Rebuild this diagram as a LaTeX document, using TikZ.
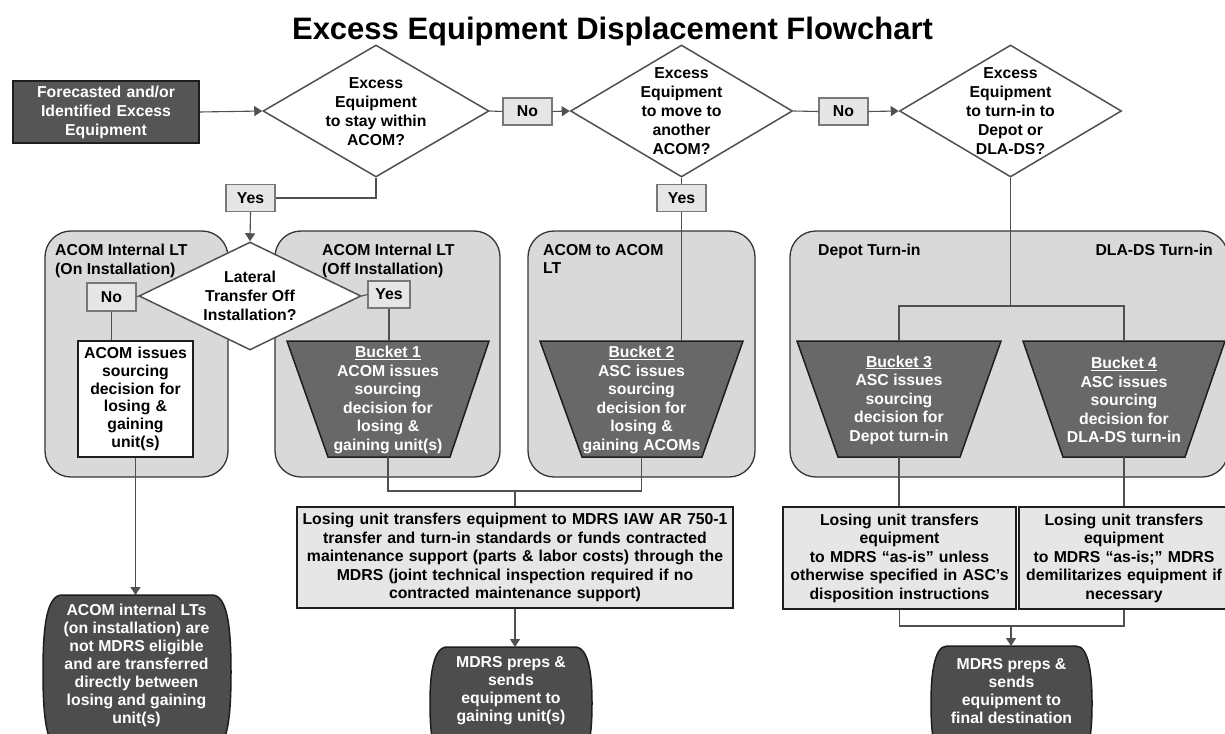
\documentclass[tikz,border=0pt]{standalone}
\usepackage{fontspec}
\setmainfont{Liberation Sans}
\usetikzlibrary{arrows.meta,shapes.geometric}

\definecolor{startfill}{RGB}{85,85,85}
\definecolor{bucketfill}{RGB}{104,104,104}
\definecolor{endfill}{RGB}{77,77,77}
\definecolor{contfill}{RGB}{217,217,217}
\definecolor{boxfill}{RGB}{230,230,230}
\definecolor{linegray}{RGB}{80,80,80}
\definecolor{lblborder}{RGB}{120,120,120}
\definecolor{edgedark}{RGB}{30,30,30}

\begin{document}
\begin{tikzpicture}[x=1pt,y=-1pt,
  every node/.style={font=\bfseries\fontsize{15.8}{18.5}\selectfont, inner sep=0pt, align=center},
  link/.style={draw=linegray, line width=1.1pt},
  flow/.style={link, -{Triangle[length=8pt,width=10pt]}},
  lbl/.style={draw=lblborder, fill=boxfill, line width=1.2pt, minimum width=49pt, minimum height=27pt},
  decision/.style={diamond, draw=linegray, line width=1.5pt, fill=white},
  dtext/.style={font=\bfseries\fontsize{15.8}{19}\selectfont},
  container/.style={draw=edgedark!90, fill=contfill, line width=1.3pt, rounded corners=26pt},
  startbox/.style={draw=edgedark, fill=startfill, line width=1.5pt, text=white},
  plainbox/.style={draw=edgedark, fill=boxfill, line width=1.5pt},
  whitebox/.style={draw=edgedark, fill=white, line width=1.5pt},
  bucket/.style={draw=edgedark, fill=bucketfill, line width=1.5pt},
  terminal/.style={draw=edgedark, fill=endfill, line width=1.5pt},
  bucketlabel/.style={text=white},
  termlabel/.style={text=white, font=\bfseries\fontsize{15.8}{18}\selectfont},
]
\useasboundingbox (0,0) rectangle (1225,733);
\clip (0,0) rectangle (1225,733);
\fill[white] (0,0) rectangle (1225,733);

% title
\node[font=\bfseries\fontsize{31}{34}\selectfont, anchor=base] (title) at (612.5,40) {Excess Equipment Displacement Flowchart};

% grouping containers
\node[container, minimum width=183pt, minimum height=246pt] (cA) at (136.5,354) {};
\node[container, minimum width=225pt, minimum height=246pt] (cB) at (387.5,354) {};
\node[container, minimum width=227pt, minimum height=246pt] (cC) at (641.5,354) {};
\node[container, minimum width=438pt, minimum height=246pt] (cD) at (1009,354) {};

\node[anchor=north west, align=left] (cAl) at (55,244) {ACOM Internal LT\\(On Installation)};
\node[anchor=north west, align=left] (cBl) at (322,244) {ACOM Internal LT\\(Off Installation)};
\node[anchor=north west, align=left] (cCl) at (543,244) {ACOM to ACOM\\LT};
\node[anchor=north west, align=left] (cDl) at (818,244) {Depot Turn-in};
\node[anchor=north east, align=right] (cDr) at (1213,244) {DLA-DS Turn-in};

% start
\node[startbox, minimum width=186pt, minimum height=62pt, text width=180pt, font=\bfseries\fontsize{15.8}{19}\selectfont] (start) at (106,112) {Forecasted and/or\\Identified Excess\\Equipment};

% decisions
\node[decision, minimum width=226pt, minimum height=132pt] (d1) at (376,111) {};
\node[dtext] (d1t) at (376,112) {Excess\\Equipment\\to stay within\\ACOM?};
\node[decision, minimum width=222pt, minimum height=132pt] (d2) at (681.5,111) {};
\node[dtext] (d2t) at (681.5,111) {Excess\\Equipment\\to move to\\another\\ACOM?};
\node[decision, minimum width=222pt, minimum height=132pt] (d3) at (1010.5,111) {};
\node[dtext] (d3t) at (1010.5,111) {Excess\\Equipment\\to turn-in to\\Depot or\\DLA-DS?};
\node[decision, minimum width=222pt, minimum height=108pt] (lat) at (250,296) {};
\node[dtext] (latt) at (250,296) {Lateral\\Transfer Off\\Installation?};

% yes / no labels
\node[lbl] (no1) at (527.5,111.5) {No};
\node[lbl] (no2) at (843.5,111.5) {No};
\node[lbl] (yes1) at (250.5,198) {Yes};
\node[lbl] (yes2) at (681.5,198) {Yes};
\node[lbl, minimum height=28pt] (no3) at (111.5,297) {No};
\node[lbl, minimum width=42pt] (yes3) at (389,294.5) {Yes};

% on-installation decision box
\node[whitebox, minimum width=115pt, minimum height=116pt, text width=112pt, font=\bfseries\fontsize{15.8}{17.8}\selectfont] (wbox) at (135.5,399) {ACOM issues\\sourcing\\decision for\\losing \&\\gaining\\unit(s)};

% buckets
\path[bucket] (287,341) -- (489,341) -- (450,457) -- (328,457) -- cycle;
\path[bucket] (540,341) -- (743,341) -- (702,457) -- (582,457) -- cycle;
\path[bucket] (797,341) -- (1001,341) -- (960,457) -- (838,457) -- cycle;
\path[bucket] (1023,341) -- (1225,341) -- (1185,457) -- (1063,457) -- cycle;
\node[bucketlabel] (b1) at (388,400) {\underline{Bucket 1}\\ACOM issues\\sourcing\\decision for\\losing \&\\gaining unit(s)};
\node[bucketlabel] (b2) at (641.5,400) {\underline{Bucket 2}\\ASC issues\\sourcing\\decision for\\losing \&\\gaining ACOMs};
\node[bucketlabel] (b3) at (899,400) {\underline{Bucket 3}\\ASC issues\\sourcing\\decision for\\Depot turn-in};
\node[bucketlabel] (b4) at (1124,400) {\underline{Bucket 4}\\ASC issues\\sourcing\\decision for\\DLA-DS turn-in};
\coordinate (b1n) at (389,341);
\coordinate (b2in) at (681.5,341);
\coordinate (b3n) at (899,341);
\coordinate (b4n) at (1124,341);
\coordinate (b1s) at (388,457);
\coordinate (b2s) at (641.5,457);
\coordinate (b3s) at (899,457);
\coordinate (b4s) at (1124,457);

% transfer boxes
\node[plainbox, minimum width=436pt, minimum height=101pt, text width=436pt] (big) at (515,557.5) {Losing unit transfers equipment to MDRS IAW AR 750-1\\transfer and turn-in standards or funds contracted\\maintenance support (parts \& labor costs) through the\\MDRS (joint technical inspection required if no\\contracted maintenance support)};
\node[plainbox, minimum width=233pt, minimum height=102pt, text width=233pt] (box3) at (899.5,558) {Losing unit transfers\\equipment\\to MDRS “as-is” unless\\otherwise specified in ASC’s\\disposition instructions};
\node[plainbox, minimum width=210pt, minimum height=102pt, text width=210pt] (box4) at (1124,558) {Losing unit transfers\\equipment\\to MDRS “as-is;” MDRS\\demilitarizes equipment if\\necessary};

% end terminals
\path[terminal] (62,595) -- (212,595) .. controls (228,595) and (231,630) .. (231,672) .. controls (231,715) and (228,750) .. (212,750) -- (62,750) .. controls (46,750) and (43,715) .. (43,672) .. controls (43,630) and (46,595) .. (62,595) -- cycle;
\path[terminal] (447,647) -- (575,647) .. controls (590,647) and (592,680) .. (592,703) .. controls (592,730) and (590,760) .. (575,760) -- (447,760) .. controls (432,760) and (430,730) .. (430,703) .. controls (430,680) and (432,647) .. (447,647) -- cycle;
\path[terminal] (947,646) -- (1076,646) .. controls (1090,646) and (1092,680) .. (1092,703) .. controls (1092,730) and (1090,760) .. (1076,760) -- (947,760) .. controls (933,760) and (931,730) .. (931,703) .. controls (931,680) and (933,646) .. (947,646) -- cycle;
\node[termlabel] (o1) at (136.5,665) {ACOM internal LTs\\(on installation) are\\not MDRS eligible\\and are transferred\\directly between\\losing and gaining\\unit(s)};
\node[termlabel] (o2) at (511,691) {MDRS preps \&\\sends\\equipment to\\gaining unit(s)};
\node[termlabel] (o3) at (1011.5,691) {MDRS preps \&\\sends\\equipment to\\final destination};
\coordinate (o1n) at (135.5,595);
\coordinate (o2n) at (515,647);
\coordinate (o3n) at (1011,646);

% junction points
\coordinate (split) at (1010.5,306);
\coordinate (join1) at (515,491);
\coordinate (join2) at (1011,626);

% connectors
\draw[flow] (start.east) -- (d1.west);
\draw[link] (d1.east) -- (no1.west);
\draw[flow] (no1.east) -- (d2.west);
\draw[link] (d2.east) -- (no2.west);
\draw[flow] (no2.east) -- (d3.west);
\draw[link] (d1.south) |- (yes1.east);
\draw[flow] (yes1.south) -- (lat.north);
\draw[link] (lat.west) -- (no3.east);
\draw[link] (lat.east) -- (yes3.west);
\draw[link] (no3.south) -- (no3.south |- wbox.north);
\draw[flow] (wbox.south) -- (o1n);
\draw[link] (yes3.south) -- (b1n);
\draw[link] (d2.south) -- (yes2.north);
\draw[link] (yes2.south) -- (b2in);
\draw[link] (d3.south) -- (split);
\draw[link] (b3n) -- (b3n |- split) -- (b4n |- split) -- (b4n);
\draw[link] (b1s) -- (b1s |- join1) -- (b2s |- join1) -- (b2s);
\draw[link] (join1) -- (big.north);
\draw[flow] (big.south) -- (o2n);
\draw[link] (b3s) -- (b3s |- box3.north);
\draw[link] (b4s) -- (b4s |- box4.north);
\draw[link] (box3.south) -- (box3.south |- join2) -- (box4.south |- join2) -- (box4.south);
\draw[flow] (join2) -- (o3n);
\end{tikzpicture}
\end{document}
